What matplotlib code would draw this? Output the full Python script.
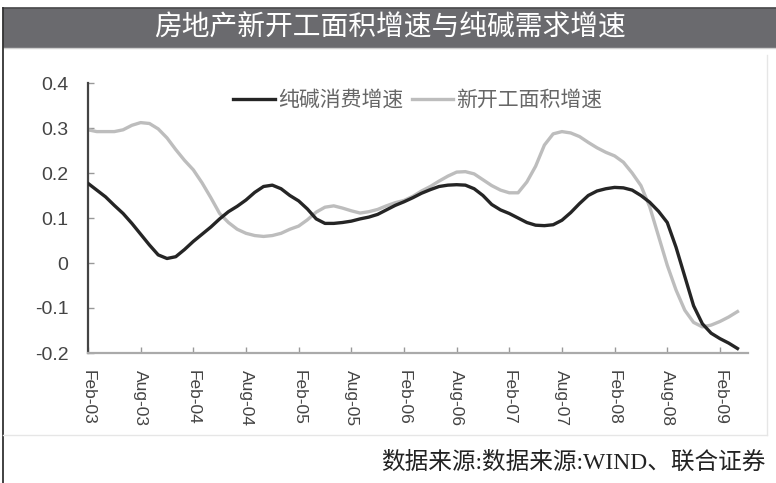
import matplotlib
matplotlib.use("Agg")
import matplotlib.pyplot as plt
import numpy as np

# monthly data, Feb-03 .. Apr-09
soda_ash = [0.177, 0.162, 0.147, 0.128, 0.110, 0.088, 0.064, 0.040, 0.018, 0.010,
            0.014, 0.030, 0.048, 0.064, 0.080, 0.098, 0.114, 0.126, 0.140, 0.157,
            0.170, 0.173, 0.165, 0.150, 0.138, 0.120, 0.098, 0.088, 0.088, 0.090,
            0.093, 0.098, 0.102, 0.108, 0.118, 0.128, 0.136, 0.145, 0.155, 0.163,
            0.170, 0.173, 0.174, 0.173, 0.165, 0.150, 0.130, 0.118, 0.110, 0.100,
            0.090, 0.084, 0.083, 0.085, 0.095, 0.112, 0.132, 0.150, 0.160, 0.165,
            0.168, 0.167, 0.162, 0.150, 0.135, 0.115, 0.090, 0.035, -0.030, -0.095,
            -0.135, -0.156, -0.168, -0.178, -0.190]
new_starts = [0.296, 0.292, 0.292, 0.292, 0.296, 0.306, 0.312, 0.310, 0.298, 0.278,
              0.252, 0.228, 0.207, 0.178, 0.145, 0.110, 0.090, 0.075, 0.066, 0.061,
              0.059, 0.061, 0.066, 0.075, 0.082, 0.096, 0.113, 0.124, 0.127, 0.122,
              0.116, 0.111, 0.114, 0.119, 0.127, 0.134, 0.139, 0.148, 0.160, 0.170,
              0.182, 0.193, 0.202, 0.203, 0.198, 0.185, 0.172, 0.162, 0.156, 0.156,
              0.180, 0.215, 0.262, 0.287, 0.292, 0.289, 0.281, 0.268, 0.256, 0.246,
              0.238, 0.224, 0.200, 0.172, 0.125, 0.060, -0.005, -0.060, -0.105, -0.132,
              -0.142, -0.138, -0.130, -0.120, -0.108]
tick_labels = ["Feb-03", "Aug-03", "Feb-04", "Aug-04", "Feb-05", "Aug-05", "Feb-06",
               "Aug-06", "Feb-07", "Aug-07", "Feb-08", "Aug-08", "Feb-09"]
y_ticks = [-0.2, -0.1, 0, 0.1, 0.2, 0.3, 0.4]
y_labels = ["-0.2", "-0.1", "0", "0.1", "0.2", "0.3", "0.4"]

cjk = ["Noto Sans CJK SC", "DejaVu Sans"]
serif_cjk = ["Liberation Serif", "Noto Sans CJK SC"]

fig = plt.figure(figsize=(7.76, 4.83), dpi=100)

# title bar
fig.patches.append(plt.Rectangle((3 / 776, 1 - 47 / 483), 1, 39 / 483,
                                 transform=fig.transFigure, color="#6a6a6e", zorder=0))
fig.lines.append(plt.Line2D([3 / 776, 1], [1 - 8 / 483] * 2, transform=fig.transFigure,
                            color="#4a4a4c", lw=1.2))
fig.lines.append(plt.Line2D([3 / 776, 1], [1 - 48 / 483] * 2, transform=fig.transFigure,
                            color="#cfcfcf", lw=1))
fig.text(0.503, 1 - 27.5 / 483, "房地产新开工面积增速与纯碱需求增速", color="white",
         fontsize=20, family=cjk, ha="center", va="center")

# frame lines
fig.lines.append(plt.Line2D([3 / 776] * 2, [0, 1 - 8 / 483], transform=fig.transFigure,
                            color="#333333", lw=1.3))
fig.lines.append(plt.Line2D([767 / 776] * 2, [1 - 435 / 483, 1 - 55 / 483],
                            transform=fig.transFigure, color="#e6e6e6", lw=1))
fig.lines.append(plt.Line2D([3 / 776, 767 / 776], [1 - 435 / 483] * 2,
                            transform=fig.transFigure, color="#e6e6e6", lw=1))

fig.text(765 / 776, 1 - 463 / 483, "数据来源:数据来源:WIND、联合证券", color="#222222",
         fontsize=17, family=serif_cjk, ha="right", va="center")

ax = fig.add_axes([88 / 776, 1 - 353 / 483, 660 / 776, 270 / 483])
x = np.arange(len(soda_ash))
ax.plot(x, new_starts, color="#bdbdbd", lw=2.4, label="新开工面积增速", zorder=2)
ax.plot(x, soda_ash, color="#252525", lw=2.4, label="纯碱消费增速", zorder=3)

ax.set_xlim(0, 75.2)
ax.set_ylim(-0.2, 0.4)
ax.set_yticks(y_ticks)
ax.set_yticklabels(y_labels, family="Liberation Sans", fontsize=14, color="#444444")
ax.set_xticks(np.arange(0, 73, 6))
ax.set_xticklabels(tick_labels, family="Liberation Sans", fontsize=12.5, color="#444444",
                   rotation=-90, ha="center", va="top")
ax.tick_params(axis="y", direction="in", length=4, width=1, color="#999999", pad=14)
ax.tick_params(axis="x", direction="in", length=4, width=1, color="#999999", pad=12)

for s in ["top", "right"]:
    ax.spines[s].set_visible(False)
ax.spines["left"].set_color("#444444")
ax.spines["left"].set_linewidth(1.6)
ax.spines["bottom"].set_color("#aaaaaa")
ax.spines["bottom"].set_linewidth(1.6)

handles, labels = ax.get_legend_handles_labels()
leg = ax.legend(handles[::-1], labels[::-1], loc="center left", bbox_to_anchor=(0.22, 0.937),
                ncol=2, frameon=False, prop={"family": cjk, "size": 15},
                handlelength=2.0, handletextpad=0.15, columnspacing=0.4, borderpad=0,
                borderaxespad=0)
for t in leg.get_texts():
    t.set_color("#666666")

fig.savefig("out.png", dpi=100)
